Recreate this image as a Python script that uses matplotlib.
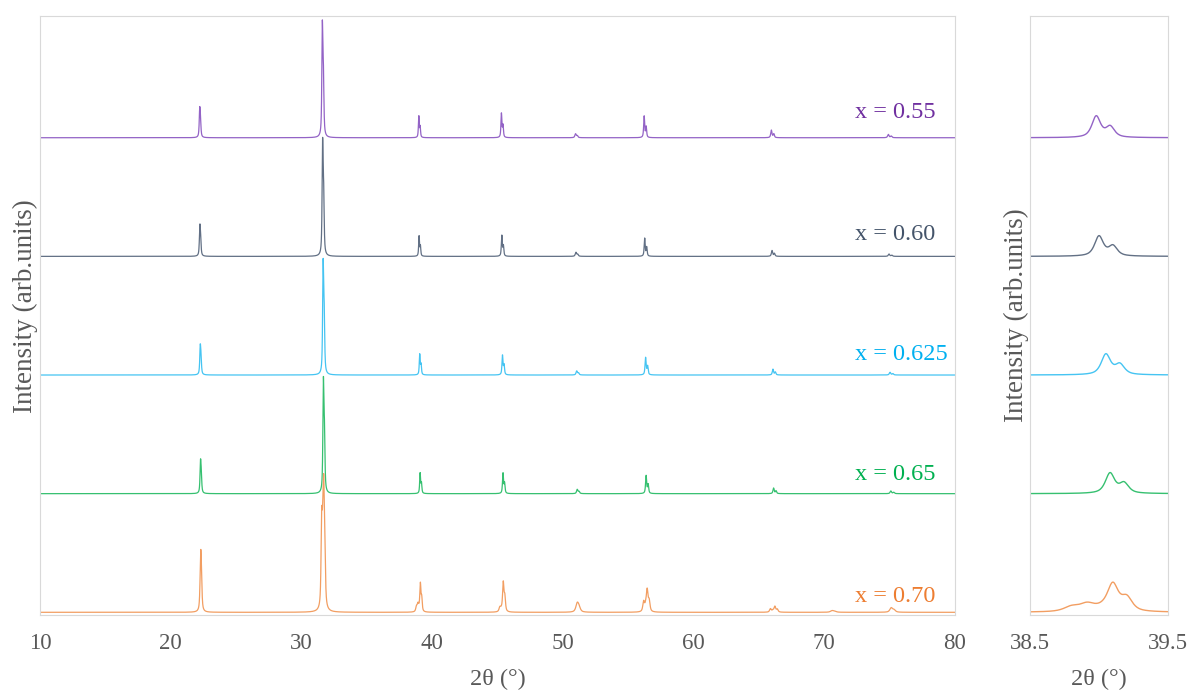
import numpy as np
import matplotlib
matplotlib.use("Agg")
import matplotlib.pyplot as plt

# ---- data -------------------------------------------------------------
labels = ["x = 0.55", "x = 0.60", "x = 0.625", "x = 0.65", "x = 0.70"]
text_colors = ["#7030A0", "#44546A", "#00B0F0", "#00B050", "#ED7D31"]
line_colors = ["#9363C6", "#627085", "#45C4F2", "#36C070", "#F29E62"]
offsets = [4, 3, 2, 1, 0]

# Cu K-alpha1 reflection positions (deg 2-theta), peak heights, FWHM (deg)
pos_055 = [22.22, 31.60, 38.98, 45.30, 50.97, 56.22, 65.95, 74.90]
amp_055 = [0.26, 0.99, 0.186, 0.21, 0.034, 0.185, 0.065, 0.028]
fw_055 = [0.09, 0.09, 0.075, 0.085, 0.12, 0.09, 0.11, 0.13]

pos_060 = [22.23, 31.62, 39.00, 45.33, 51.00, 56.26, 66.00, 74.95]
amp_060 = [0.27, 1.00, 0.175, 0.18, 0.035, 0.155, 0.05, 0.02]
fw_060 = [0.09, 0.09, 0.075, 0.085, 0.12, 0.09, 0.11, 0.13]

pos_0625 = [22.26, 31.66, 39.05, 45.38, 51.06, 56.33, 66.07, 75.03]
amp_0625 = [0.26, 0.98, 0.18, 0.17, 0.035, 0.15, 0.05, 0.023]
fw_0625 = [0.09, 0.09, 0.08, 0.09, 0.12, 0.10, 0.11, 0.13]

pos_065 = [22.28, 31.68, 39.08, 45.42, 51.10, 56.37, 66.12, 75.09]
amp_065 = [0.29, 0.985, 0.178, 0.177, 0.037, 0.155, 0.048, 0.023]
fw_065 = [0.09, 0.09, 0.08, 0.09, 0.12, 0.10, 0.11, 0.13]

pos_070 = [22.29, 31.70, 39.10, 45.44, 51.10, 56.45, 66.22, 70.60, 75.12]
amp_070 = [0.52, 0.986, 0.24, 0.26, 0.085, 0.19, 0.05, 0.015, 0.04]
fw_070 = [0.11, 0.12, 0.095, 0.12, 0.25, 0.15, 0.15, 0.30, 0.25]

# second set of reflections seen as shoulders in the x = 0.70 pattern
pos_070_b = [31.55, 38.80, 38.92, 45.18, 56.18, 65.88]
amp_070_b = [0.78, 0.045, 0.048, 0.04, 0.09, 0.03]
fw_070_b = [0.11, 0.13, 0.13, 0.15, 0.15, 0.15]

peak_sets = [
    [(pos_055, amp_055, fw_055)],
    [(pos_060, amp_060, fw_060)],
    [(pos_0625, amp_0625, fw_0625)],
    [(pos_065, amp_065, fw_065)],
    [(pos_070, amp_070, fw_070), (pos_070_b, amp_070_b, fw_070_b)],
]

# ---- profile model ----------------------------------------------------
KA2_RATIO = 1.544390 / 1.540562
ETA = 0.7


def pseudo_voigt(x, c, w):
    d = (x - c) / (w / 2.0)
    return ETA / (1.0 + d ** 2) + (1.0 - ETA) * np.exp(-np.log(2.0) * d ** 2)


def ka2_position(c):
    return 2.0 * np.degrees(np.arcsin(np.sin(np.radians(c / 2.0)) * KA2_RATIO))


def pattern(x, sets):
    y = np.zeros_like(x)
    for positions, heights, widths in sets:
        for c, h, w in zip(positions, heights, widths):
            c2 = ka2_position(c)
            a = h / (1.0 + 0.5 * pseudo_voigt(c, c2, w))
            y += a * (pseudo_voigt(x, c, w) + 0.5 * pseudo_voigt(x, c2, w))
    return y


two_theta = np.arange(10.0, 80.0 + 1e-9, 0.004)

# ---- figure -----------------------------------------------------------
plt.rcParams["font.family"] = ["Liberation Serif", "DejaVu Serif"]
W, H = 1192, 693
fig = plt.figure(figsize=(W / 100, H / 100), dpi=100)


def px_rect(x0, x1, ytop, ybot):
    return [x0 / W, 1 - ybot / H, (x1 - x0) / W, (ybot - ytop) / H]


ax = fig.add_axes(px_rect(40, 955, 16, 614.5))
ax2 = fig.add_axes(px_rect(1030, 1168, 16, 614.5))

text_grey = "#595959"
frame_grey = "#D9D9D9"

for curve_sets, off, col in zip(peak_sets, offsets, line_colors):
    y = pattern(two_theta, curve_sets) + off
    ax.plot(two_theta, y, color=col, lw=0.9)
    ax2.plot(two_theta, y, color=col, lw=1.0)

label_y = [4.166, 3.138, 2.127, 1.115, 0.091]
for lab, yy, col in zip(labels, label_y, text_colors):
    ax.text(72.36, yy, lab, color=col, fontsize=17.5, ha="left", va="baseline")

ymin, ymax = -0.0185, 5.026
ax.set_xlim(10, 80)
ax.set_ylim(ymin, ymax)
ax.set_xticks([10, 20, 30, 40, 50, 60, 70, 80])
ax2.set_xlim(38.5, 39.5)
ax2.set_ylim(ymin, ymax)
ax2.set_xticks([38.5, 39.5])
ax2.set_xticklabels(["38.5", "39.5"])

for a in (ax, ax2):
    a.set_yticks([])
    for s in a.spines.values():
        s.set_color(frame_grey)
        s.set_linewidth(0.8)
    a.tick_params(axis="x", length=0, pad=13, labelsize=16.5, labelcolor=text_grey)
    a.set_xlabel("2θ (°)", fontsize=17.5, color=text_grey, labelpad=11)
    a.set_ylabel("Intensity (arb.units)", fontsize=19.5, color=text_grey, labelpad=1)

ax.yaxis.set_label_coords(-0.002, 0.515)

fig.savefig("out.png", dpi=100)
